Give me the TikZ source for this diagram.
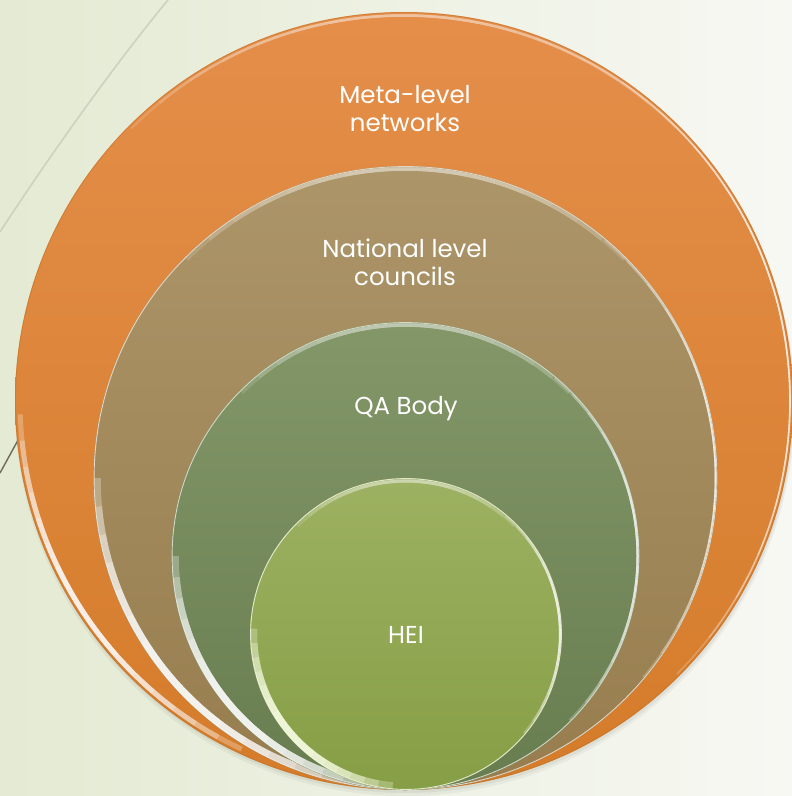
\documentclass[tikz,border=0pt]{standalone}
\usepackage{fontspec}
\setmainfont{Poppins}
\usetikzlibrary{calc}
\definecolor{bgL}{HTML}{E4EAD3}
\definecolor{bgR}{HTML}{F7F8F3}
\definecolor{orT}{HTML}{E48E4A}
\definecolor{orB}{HTML}{D57C2A}
\definecolor{brT}{HTML}{AC9569}
\definecolor{brB}{HTML}{977D4E}
\definecolor{grT}{HTML}{839769}
\definecolor{grB}{HTML}{687D4F}
\definecolor{heT}{HTML}{9DB162}
\definecolor{heB}{HTML}{869E45}
\definecolor{lineL}{HTML}{CDD2BF}
\definecolor{lineD}{HTML}{6E6A5C}
\definecolor{paleY}{HTML}{FBFFE8}
\tikzset{
  ring/.style={circle, inner sep=0pt, draw=none},
  lbl/.style={text=white, align=center, font=\fontsize{24.5}{28}\selectfont},
}
% one highlight arc: centre node, start angle, end angle, radius, draw style
\newcommand\myhl[5]{%
  \begin{scope}
  \clip (#1.center) -- ($(#1.center)+(#2:900)$) -- ($(#1.center)+({(#2+#3)/2}:1300)$) -- ($(#1.center)+(#3:900)$) -- cycle;
  \draw[#5] (#1.center) circle[radius=#4];
  \end{scope}}
% fading highlight: node, start, end, radius, width, colour, opacity per layer
\newcommand\myfade[7]{%
  \foreach \k in {0,...,6}{%
    \pgfmathsetmacro\sa{(#2)+\k*((#3)-(#2))/16}%
    \pgfmathsetmacro\sb{(#3)-\k*((#3)-(#2))/16}%
    \myhl{#1}{\sa}{\sb}{#4}{draw=#6, line width=#5, opacity=#7}}}
\begin{document}
\begin{tikzpicture}[x=1pt,y=-1pt]
\useasboundingbox (0,0) rectangle (792,796);
\clip (0,0) rectangle (792,796);
% background
\fill[left color=bgL, right color=bgR] (0,0) rectangle (792,796);
\draw[lineL, line width=1.6pt] (168,0) .. controls (110,70) and (40,170) .. (0,232);
\draw[lineD, line width=1.4pt] (0,473) -- (40,400);
% shadow
\fill[black, opacity=0.04] (405,406) circle[radius=390];
\fill[black, opacity=0.05] (405,404) circle[radius=389];
% outer circle
\node[ring, minimum size=778pt, top color=orT, bottom color=orB] (outer) at (404,401) {};
\draw[draw=orB!90!black, line width=0.8pt, opacity=0.5] (outer.center) circle[radius=388.5];
\myfade{outer}{-70}{45}{386}{1.6pt}{white}{0.22}
\myfade{outer}{225}{315}{385.5}{2.5pt}{white!60!orT}{0.22}
\myfade{outer}{115}{178}{384}{5pt}{white}{0.26}

% national
\node[ring, minimum size=624pt, top color=brT, bottom color=brB] (national) at (405.5,478) {};
\draw[draw=white!70!brT, line width=0.9pt, opacity=0.9] (national.center) circle[radius=311.4];
\myfade{national}{225}{315}{309}{3.5pt}{white!60!brT}{0.22}
\myfade{national}{-50}{40}{310}{1.6pt}{white}{0.22}
\myfade{national}{95}{180}{308}{6.5pt}{white}{0.28}

% QA body
\node[ring, minimum size=468pt, top color=grT, bottom color=grB] (qa) at (405.5,556) {};
\draw[draw=white!70!grT, line width=0.9pt, opacity=0.9] (qa.center) circle[radius=233.4];
\myfade{qa}{225}{315}{231}{3.5pt}{white!60!grT}{0.22}
\myfade{qa}{-50}{45}{232}{2pt}{white}{0.22}
\myfade{qa}{95}{180}{230}{6.5pt}{white}{0.28}

% HEI
\node[ring, minimum size=312pt, top color=heT, bottom color=heB] (hei) at (406,634) {};
\draw[draw=white!70!heT, line width=0.9pt] (hei.center) circle[radius=155.4];
\myfade{hei}{225}{315}{153}{3pt}{white!60!heT}{0.22}
\myfade{hei}{-50}{40}{154}{2pt}{white}{0.22}
\myfade{hei}{95}{182}{152}{6.5pt}{paleY}{0.28}

% labels
\node[lbl] (tmeta) at (405,109) {Meta-level\\networks};
\node[lbl] (tnat) at (405,262) {National level\\councils};
\node[lbl] (tqa) at (406,409) {QA Body};
\node[lbl] (thei) at (406,635) {HEI};
\end{tikzpicture}
\end{document}
